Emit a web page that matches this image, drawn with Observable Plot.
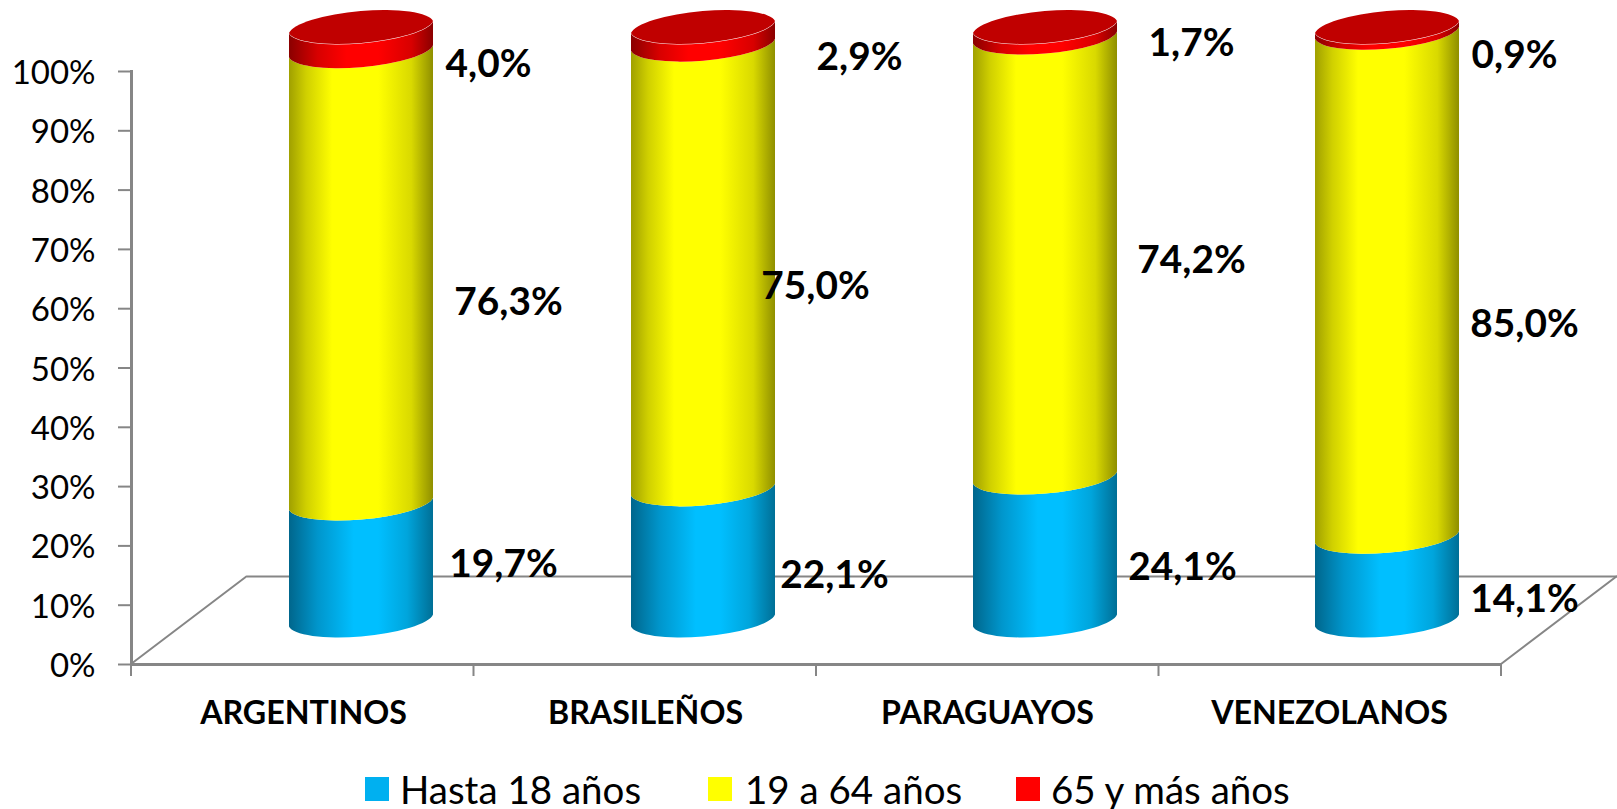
<!DOCTYPE html>
<html><head><meta charset="utf-8">
<script src="https://cdn.jsdelivr.net/npm/d3@7"></script>
<script src="https://cdn.jsdelivr.net/npm/@observablehq/plot@0.6"></script>
<style>
html,body{margin:0;padding:0;background:#fff;overflow:hidden}
#legend{position:relative;height:49px;font:38.5px Lato,sans-serif;color:#000}
#legend span{position:absolute;white-space:nowrap;line-height:40px;top:9px}
#legend i{position:absolute;width:24px;height:24px;top:17px}
</style></head><body><div id="chart"></div><div id="legend"></div>
<script>
const categories = ["ARGENTINOS","BRASILEÑOS","PARAGUAYOS","VENEZOLANOS"];
const seriesNames = ["Hasta 18 años","19 a 64 años","65 y más años"];
const hasta18 = [19.7,22.1,24.1,14.1];
const de19a64 = [76.3,75.0,74.2,85.0];
const mas65 = [4.0,2.9,1.7,0.9];
const seriesValues = [hasta18,de19a64,mas65];
const legendColors = ["#00b0f0","#ffff00","#ff0000"];
const gradients = [
  ["grBlue",[[0,"#00668c"],[.2,"#0096cc"],[.45,"#00bfff"],[.62,"#00bfff"],[.82,"#00a5dc"],[1,"#006f96"]]],
  ["grYellow",[[0,"#a0a000"],[.12,"#d0d000"],[.3,"#ffff00"],[.62,"#ffff00"],[.85,"#d9d900"],[1,"#8f8f00"]]],
  ["grRed",[[0,"#8a0000"],[.2,"#d80000"],[.4,"#ff0000"],[.62,"#ff0000"],[.85,"#d80000"],[1,"#8a0000"]]]
];
// placement of the value labels relative to each stack segment: [dx, dy] per country, per series
const labelNudges = [
  [[200,-42],[205,-19],[185,-19]],
  [[189,-23],[170,-24],[214,-23]],
  [[195,-25],[204,-41],[204,-33]],
  [[195,-23],[195,-4],[185,-19]]
];
const rows = categories.flatMap((c,i)=>seriesNames.map((s,j)=>({
  country:c, series:s, value:seriesValues[j][i],
  mid:d3.sum(seriesValues.slice(0,j),v=>v[i])+seriesValues[j][i]/2,
  i,j
})));

const W=1617,H=760,L=131,R=116,T=71,B=96;
const depthX=116, depthY=88, midX=depthX/2, midY=-43.5;
const tilt=6, rx=72.6, ry=17.6, rot=-5, gray="#868686";

function replaceRects(g,pathOf){
  d3.select(g).selectAll("rect").each(function(){
    const x=+this.getAttribute("x"),w=+this.getAttribute("width"),
          y=+this.getAttribute("y"),h=+this.getAttribute("height");
    const p=document.createElementNS("http://www.w3.org/2000/svg","path");
    for(const a of this.attributes) if(!["x","y","width","height"].includes(a.name)) p.setAttribute(a.name,a.value);
    p.setAttribute("d",pathOf(x,x+w,y,y+h));
    this.replaceWith(p);
  });
  return g;
}
const bodyPath=(l,r,t,b)=>`M${l},${b+tilt}A${rx},${ry} ${rot} 0 0 ${r},${b-tilt}L${r},${t-tilt}A${rx},${ry} ${rot} 0 1 ${l},${t+tilt}Z`;
const capPath=(l,r,t)=>`M${l},${t+tilt}A${rx},${ry} ${rot} 0 0 ${r},${t-tilt}A${rx},${ry} ${rot} 0 0 ${l},${t+tilt}Z`;

const defsMark=()=>{
  const d=d3.create("svg:defs");
  for(const [id,stops] of gradients){
    const g=d.append("linearGradient").attr("id",id).attr("x1",0).attr("x2",1).attr("y1",0).attr("y2",0);
    for(const [o,c] of stops) g.append("stop").attr("offset",o).attr("stop-color",c);
  }
  return d.node();
};
const floorMark=(index,{y},_,{width,marginLeft,marginRight})=>{
  const x0=marginLeft,x1=width-marginRight,y0=y(0),step=(x1-x0)/categories.length;
  const g=d3.create("svg:g").attr("fill","none").attr("stroke",gray);
  g.append("path").attr("stroke-width",2).attr("d",`M${x0},${y0}L${x0+depthX},${y0-depthY}M${x1},${y0}L${x1+depthX},${y0-depthY}`);
  g.append("path").attr("stroke-width",2).attr("d",d3.range(categories.length+1).map(i=>`M${x0+i*step},${y0}v12`).join(""));
  return g.node();
};

const chart=Plot.plot({
  width:W,height:H,marginLeft:L,marginRight:R,marginTop:T,marginBottom:B,
  style:{fontFamily:"Lato, sans-serif",background:"#fff",color:"#000"},
  x:{domain:categories,paddingInner:.578,paddingOuter:.289,label:null},
  y:{domain:[0,100],label:null},
  color:{domain:seriesNames,range:gradients.map(([id])=>`url(#${id})`)},
  marks:[
    defsMark,
    Plot.ruleY([0],{dx:depthX,dy:-depthY,stroke:gray,strokeWidth:2}),
    floorMark,
    Plot.frame({anchor:"left",stroke:gray,strokeWidth:3}),
    Plot.ruleY([0],{stroke:gray,strokeWidth:3}),
    Plot.axisY({ticks:d3.range(0,101,10),tickSize:13,text:null,stroke:gray,strokeWidth:2}),
    Plot.axisY({ticks:d3.range(0,101,10),tickFormat:d=>d+"%",tickSize:0,tickPadding:36,dy:2,fontSize:33,fill:"#000"}),
    Plot.axisX({tickSize:0,tickPadding:37,fontSize:32.2,fontWeight:"bold",fill:"#000",lineAnchor:"top"}),
    Plot.barY(rows,{x:"country",y:"value",fill:"series",order:null,dx:midX,dy:midY,
      render(index,scales,values,dims,ctx,next){
        return replaceRects(next(index,scales,values,dims,ctx),bodyPath);
      }}),
    Plot.barY(categories,{x:d=>d,y1:()=>100,y2:()=>100,fill:"#c00000",dx:midX,dy:midY-0.5,
      render(index,scales,values,dims,ctx,next){
        return replaceRects(next(index,scales,values,dims,ctx),(l,r,t)=>capPath(l,r,t));
      }}),
    ...rows.map(r=>Plot.text([r],{x:"country",y:"mid",text:d=>d.value.toFixed(1).replace(".",",")+"%",
      dx:labelNudges[r.i][r.j][0],dy:labelNudges[r.i][r.j][1],fontSize:38.8,fontWeight:"bold",fill:"#000",textAnchor:"middle",lineAnchor:"middle"}))
  ]
});
document.getElementById("chart").append(chart);
chart.style.display="block";chart.style.overflow="visible";

const legend=d3.select("#legend");
const squareX=[365,708,1016], textX=[400,745,1051];
seriesNames.forEach((s,i)=>{
  legend.append("i").style("left",squareX[i]+"px").style("background",legendColors[i]);
  legend.append("span").style("left",textX[i]+"px").text(s);
});
</script></body></html>
